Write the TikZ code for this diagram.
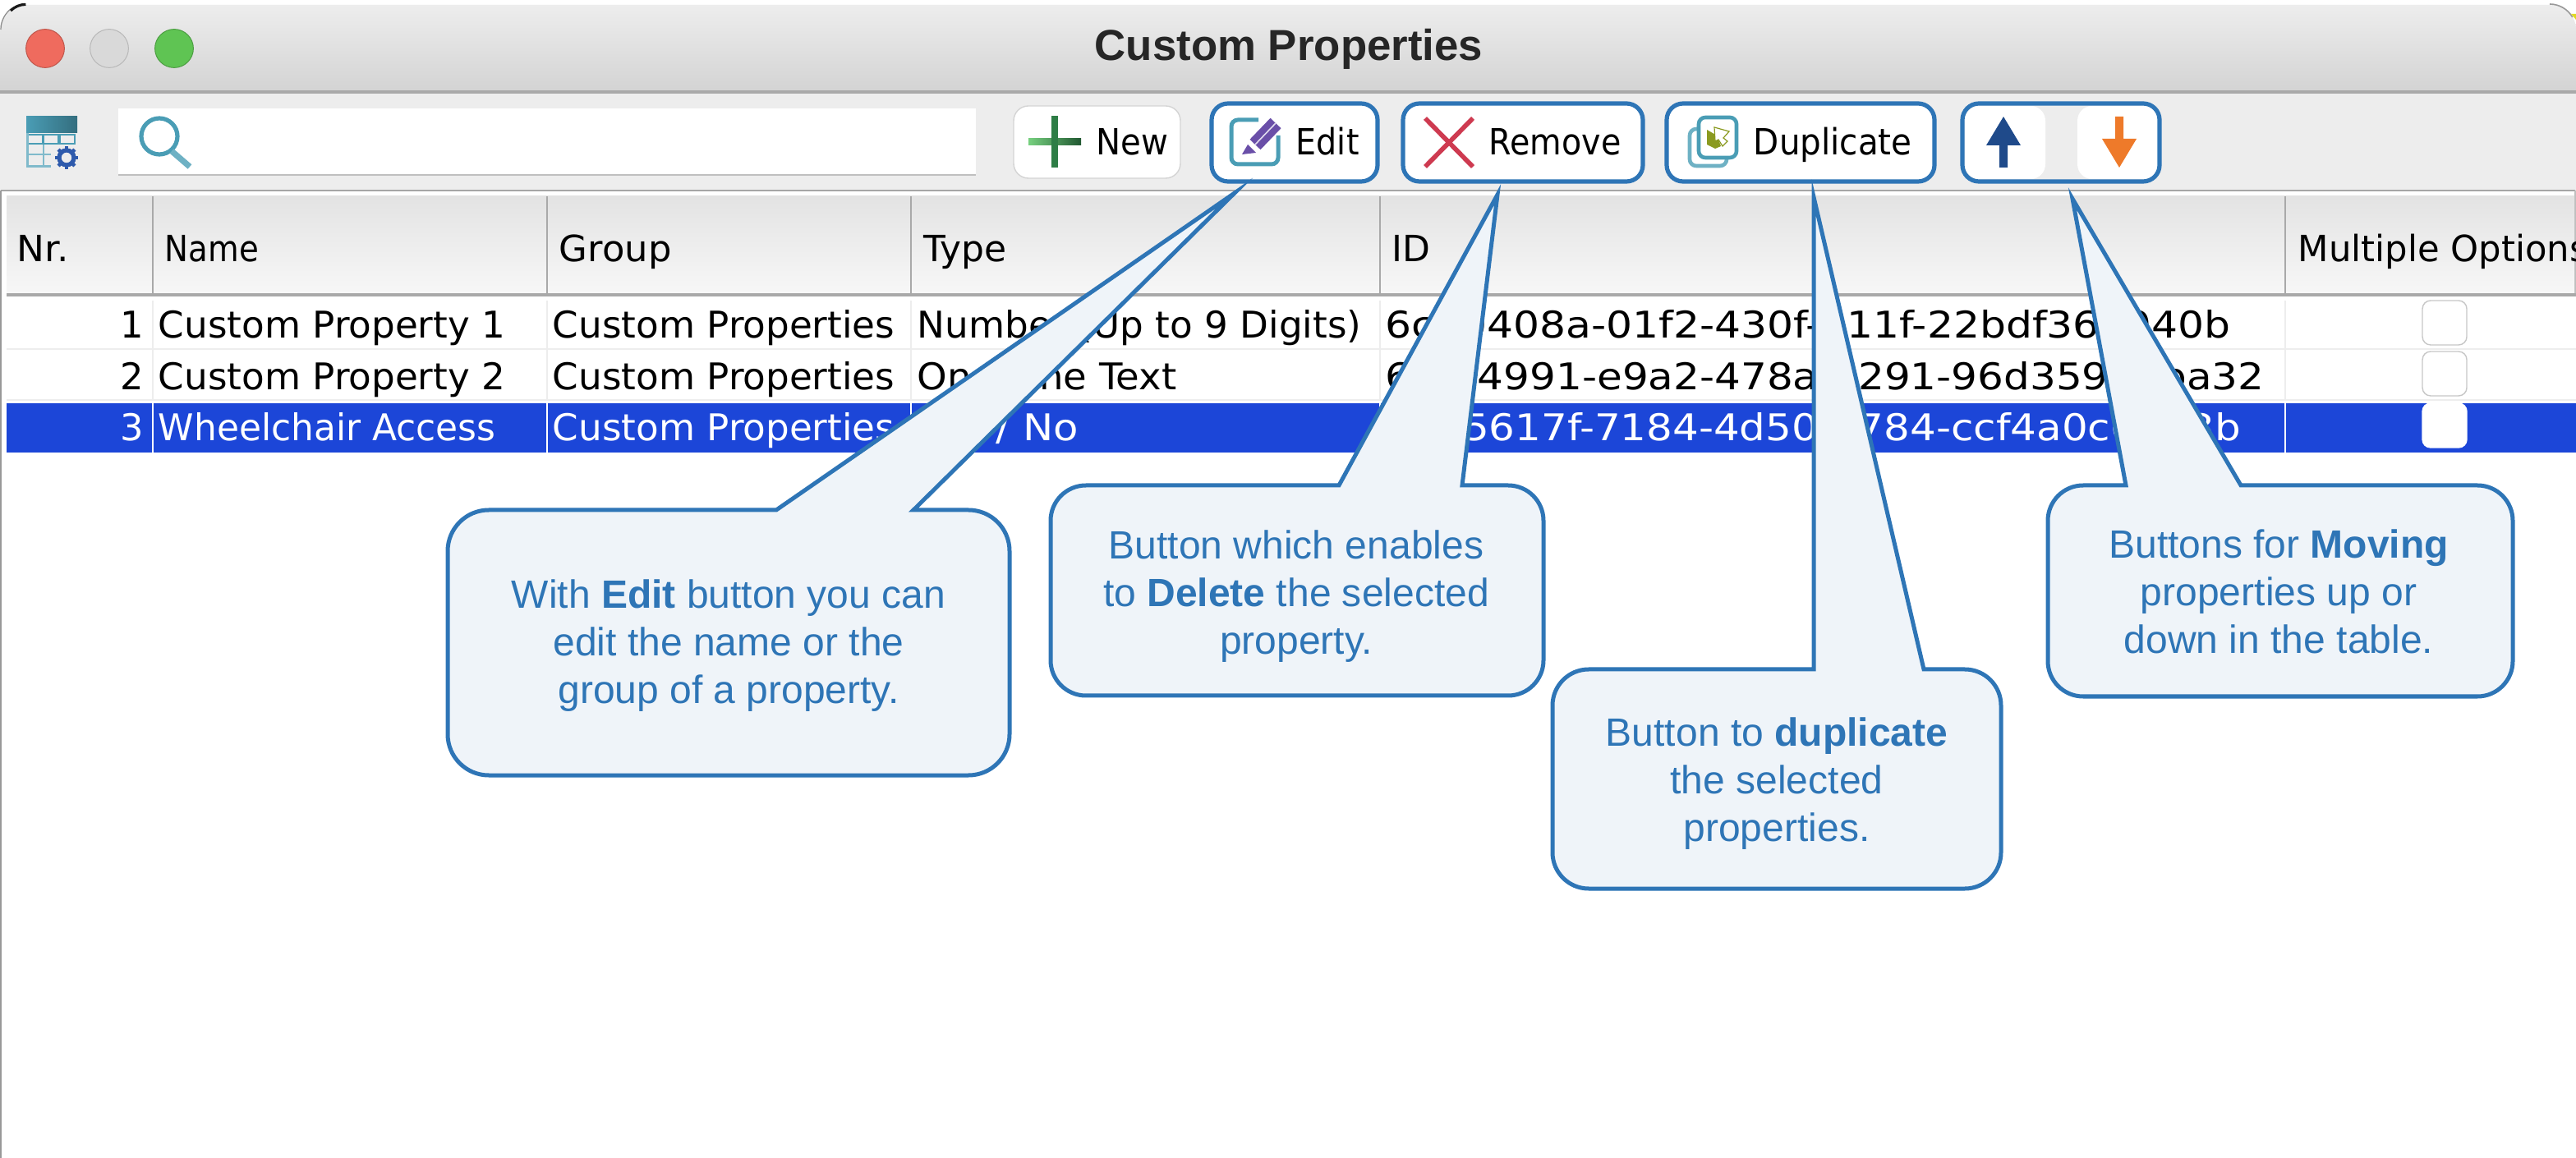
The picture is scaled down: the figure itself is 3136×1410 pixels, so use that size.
\documentclass[tikz,border=0pt]{standalone}
\usepackage{fontspec}
\setmainfont{Liberation Sans}
\newfontfamily\uifont{DejaVu Sans}
\definecolor{callblue}{HTML}{2E75B6}
\definecolor{callfill}{HTML}{EFF4F9}
\definecolor{selblue}{HTML}{1C46D8}
\definecolor{toolbg}{HTML}{EDEDED}
\definecolor{gridgray}{HTML}{A9A9A9}
\definecolor{faint}{HTML}{EDEDED}
\definecolor{btnedge}{HTML}{D4D4D4}
\definecolor{teal}{HTML}{4A9DB5}
\definecolor{lightred}{HTML}{EF6B5E}
\definecolor{lightgreen}{HTML}{5FC453}
\definecolor{gearblue}{HTML}{2E5AAC}
\definecolor{plusgreen}{HTML}{2E7D46}
\definecolor{crossred}{HTML}{CE3A50}
\definecolor{pencil}{HTML}{6A4FA8}
\definecolor{upblue}{HTML}{1F4A8A}
\definecolor{downorange}{HTML}{EE7A2A}
\definecolor{olive}{HTML}{8A9A20}
\newcommand{\hsq}[2]{\scalebox{#1}[1]{#2}}
\tikzset{
 x=0.25pt,y=-0.25pt,
 head/.style={anchor=base west,inner sep=0pt,font=\uifont\fontsize{11}{13}\selectfont,text=black},
 cell/.style={anchor=base west,inner sep=0pt,font=\uifont\fontsize{11.2}{13}\selectfont,text=black},
 cellnum/.style={anchor=base east,inner sep=0pt,font=\uifont\fontsize{11.2}{13}\selectfont,text=black},
 selcell/.style={cell,text=white},
 selnum/.style={cellnum,text=white},
 btntext/.style={anchor=base west,inner sep=0pt,font=\uifont\fontsize{11}{13}\selectfont,text=black},
 calltext/.style={align=center,inner sep=0pt,font=\fontsize{12}{14.5}\selectfont,text=callblue},
 callout/.style={draw=callblue,fill=callfill,line width=1.25pt,miter limit=40},
 hilite/.style={draw=callblue,line width=1.3pt,rounded corners=5pt},
 btn/.style={fill=white,draw=btnedge,line width=0.35pt,rounded corners=4.5pt},
 check/.style={fill=white,draw=#1,line width=0.35pt,rounded corners=2.5pt},
 light/.style={circle,minimum size=11.7pt,inner sep=0pt,line width=0.25pt},
}
\begin{document}
\begin{tikzpicture}
\useasboundingbox (0,0) rectangle (3136,1410);
\fill[white] (0,0) rectangle (3136,1410);
% window chrome
\path[top color=black!7,bottom color=black!17]
  (0,110) -- (0,36) arc[start angle=180,end angle=270,radius=30] -- (3106,6) arc[start angle=270,end angle=360,radius=30] -- (3136,110) -- cycle;
\fill[toolbg] (0,113) rectangle (3136,232);
\draw[gridgray,line width=0.8pt] (0,112) -- (3136,112);
\draw[black!45,line width=0.3pt] (1,36) arc[start angle=180,end angle=235,radius=32];
\draw[black!90,line width=0.8pt] (13,13) arc[start angle=225,end angle=270,radius=26];
\draw[black!40,line width=0.4pt] (3104,5) arc[start angle=270,end angle=330,radius=32];
\fill[yellow!70!olive] (3130,17) -- (3136,17) -- (3136,24) -- cycle;
\node[anchor=base,inner sep=0pt,font=\bfseries\fontsize{13.2}{15}\selectfont,text=black!85] (title) at (1569,74) {Custom Properties};
\fill[white] (0,233) rectangle (3136,1410);
\draw[black!35,line width=0.4pt] (1,232) -- (3135,232);
\draw[black!40,line width=0.4pt] (1,232) -- (1,1410);
\draw[black!25,line width=0.3pt] (3135,232) -- (3135,358);
% traffic lights
\node[light,fill=lightred,draw=lightred!80!black] (close) at (55,59) {};
\node[light,fill=black!15,draw=black!28] (mini) at (133,59) {};
\node[light,fill=lightgreen,draw=lightgreen!80!black] (zoom) at (212,59) {};
% toolbar icon
\shade[left color=teal,right color=teal!70!black] (32,142) rectangle (94,162);
\foreach \xa in {34,53,73}{\draw[teal,line width=0.7pt] (\xa,164) rectangle +(18,11);}
\fill[teal!70] (32,162) rectangle (35,204);
\fill[teal!70] (32,201) rectangle (62,204);
\draw[teal!70,line width=0.7pt] (34,188) -- (62,188) (53,176) -- (53,202);
\foreach \ang in {0,45,...,315}{\draw[gearblue,line width=1.1pt] (81,192) ++(\ang:8) -- ++(\ang:6);}
\draw[gearblue,line width=1.3pt] (81,192) circle[radius=9];
% search
\fill[white] (144,132) rectangle (1188,213);
\draw[black!25,line width=0.4pt] (144,213) -- (1188,213);
\draw[teal,line width=1.3pt] (194,166) circle[radius=22];
\draw[teal!80,line width=1.8pt] (209,184) -- (231,203);
% buttons
\node[btn,minimum width=50.75pt,minimum height=22pt,inner sep=0pt] (newb) at (1335.5,173) {};
\shade[left color=plusgreen!60!green!60!white,right color=plusgreen!70!black] (1252,169) rectangle (1316,177);
\fill[plusgreen] (1280,141) rectangle (1288,204);
\node[btntext] (newt) at (1334,189) {\hsq{.915}{New}};
\node[btn,hilite,fill=white,minimum width=50.5pt,minimum height=23.75pt,inner sep=0pt] (editb) at (1576,173.5) {};
\draw[teal,line width=1.25pt,rounded corners=2pt] (1532,146) -- (1499,146) -- (1499,200) -- (1556,200) -- (1556,165);
\fill[pencil] (1546.5,143.8) -- (1559.5,156.2) -- (1534.5,182.2) -- (1521.5,169.8) -- cycle;
\fill[pencil] (1519,176) -- (1529,186) -- (1512,188) -- cycle;
\draw[white!80!pencil,line width=0.4pt] (1553,150) -- (1528,176);
\node[btntext] (editt) at (1577,189) {\hsq{.9}{Edit}};
\node[btn,hilite,fill=white,minimum width=73pt,minimum height=23.75pt,inner sep=0pt] (remb) at (1854,173.5) {};
\draw[crossred,line width=1.4pt] (1735,144) -- (1793,203) (1793,144) -- (1735,203);
\node[btntext] (remt) at (1812,189) {\hsq{.9}{Remove}};
\node[btn,hilite,fill=white,minimum width=81.5pt,minimum height=23.75pt,inner sep=0pt] (dupb) at (2192,173.5) {};
\draw[teal!80,line width=1.15pt,rounded corners=2pt] (2057,157) rectangle (2102,202);
\fill[white] (2068,143) rectangle (2114,192);
\draw[teal,line width=1.15pt,rounded corners=2pt] (2068,143) rectangle (2114,192);
\fill[olive] (2078,158) -- (2090,165) -- (2095,178) -- (2088,181) -- (2078,176) -- cycle;
\filldraw[fill=white,draw=olive,line width=0.3pt] (2087,155) -- (2105,160) -- (2098,168) -- (2103,172) -- (2097,178) -- (2092,170) -- (2088,172) -- cycle;
\node[btntext] (dupt) at (2134,189) {\hsq{.92}{Duplicate}};
\path[fill=white,rounded corners=4.5pt] (2392,129) rectangle (2490,218);
\path[fill=white,rounded corners=4.5pt] (2529,129) rectangle (2627,218);
\node[hilite,minimum width=60pt,minimum height=23.75pt,inner sep=0pt] (movb) at (2509,173.5) {};
\fill[upblue] (2439,142) -- (2460,177) -- (2444,177) -- (2444,204) -- (2434,204) -- (2434,177) -- (2418,177) -- cycle;
\fill[downorange] (2580,204) -- (2559,169) -- (2575,169) -- (2575,142) -- (2585,142) -- (2585,169) -- (2601,169) -- cycle;
% table header
\shade[top color=black!11,bottom color=black!3] (8,239) rectangle (3134,358);
\draw[gridgray,line width=0.8pt] (8,359) -- (3136,359);
\foreach \xa in {186,666,1109,1680,2782}{\draw[gridgray,line width=0.3pt] (\xa,239) -- (\xa,358);}
\node[head] (h1) at (20,319) {\hsq{1.03}{Nr.}};
\node[head] (h2) at (200,319) {\hsq{.88}{Name}};
\node[head] (h3) at (680,319) {\hsq{1.02}{Group}};
\node[head] (h4) at (1124,319) {\hsq{1.0}{Type}};
\node[head] (h5) at (1694,319) {ID};
\begin{scope}
\clip (0,240) rectangle (3136,360);
\node[head] (h6) at (2797,319) {\hsq{.985}{Multiple Options}};
\end{scope}
% rows
\draw[faint,line width=0.6pt] (8,425) -- (3136,425) (8,487) -- (3136,487);
\foreach \xa in {186,666,1109,1680,2782}{\draw[faint,line width=0.3pt] (\xa,366) -- (\xa,487);}
\fill[selblue] (8,491) rectangle (3136,551);
\foreach \xa in {186,666,1109,1680,2782}{\draw[white,line width=0.5pt] (\xa,491) -- (\xa,551);}
\node[cellnum] (n1) at (176,412) {1};
\node[cell] (a1) at (192,412) {\hsq{1.01}{Custom Property 1}};
\node[cell] (b1) at (672,412) {\hsq{1.01}{Custom Properties}};
\node[cell] (c1) at (1116,412) {\hsq{1.01}{Number (Up to 9 Digits)}};
\node[cell] (d1) at (1686,412) {\hsq{1.124}{6cd0408a-01f2-430f-b11f-22bdf360940b}};
\node[cellnum] (n2) at (176,475) {2};
\node[cell] (a2) at (192,475) {\hsq{1.01}{Custom Property 2}};
\node[cell] (b2) at (672,475) {\hsq{1.01}{Custom Properties}};
\node[cell] (c2) at (1116,475) {\hsq{1.04}{One Line Text}};
\node[cell] (d2) at (1686,475) {\hsq{1.117}{6f0e4991-e9a2-478a-a291-96d35900ba32}};
\node[selnum] (n3) at (176,537) {3};
\node[selcell] (a3) at (192,537) {\hsq{.98}{Wheelchair Access}};
\node[selcell] (b3) at (672,537) {\hsq{1.01}{Custom Properties}};
\node[selcell] (c3) at (1116,537) {\hsq{1.11}{Yes / No}};
\node[selcell] (d3) at (1686,537) {\hsq{1.115}{7e05617f-7184-4d50-a784-ccf4a0c0003b}};
\node[check=black!22,minimum width=13.5pt,minimum height=13.5pt,inner sep=0pt] (k1) at (2976,393) {};
\node[check=black!22,minimum width=13.5pt,minimum height=13.5pt,inner sep=0pt] (k2) at (2976,455) {};
\node[check=white,minimum width=13.5pt,minimum height=13.5pt,inner sep=0pt] (k3) at (2976,518) {};
% callouts
\coordinate (tipA) at (1503,235);
\coordinate (tipB) at (1823,237);
\coordinate (tipC) at (2208,240);
\coordinate (tipD) at (2523,242);
\path[callout] (595,621) -- (945,621) -- (tipA) -- (1112,621) -- (1179,621) arc[start angle=-90,end angle=0,radius=50] -- (1229,894) arc[start angle=0,end angle=90,radius=50] -- (595,944) arc[start angle=90,end angle=180,radius=50] -- (545,671) arc[start angle=180,end angle=270,radius=50] -- cycle;
\path[callout] (1322,591) -- (1630,591) -- (tipB) -- (1780,591) -- (1836,591) arc[start angle=-90,end angle=0,radius=43] -- (1879,804) arc[start angle=0,end angle=90,radius=43] -- (1322,847) arc[start angle=90,end angle=180,radius=43] -- (1279,634) arc[start angle=180,end angle=270,radius=43] -- cycle;
\path[callout] (1934,815) -- (2208,815) -- (tipC) -- (2342,815) -- (2392,815) arc[start angle=-90,end angle=0,radius=44] -- (2436,1038) arc[start angle=0,end angle=90,radius=44] -- (1934,1082) arc[start angle=90,end angle=180,radius=44] -- (1890,859) arc[start angle=180,end angle=270,radius=44] -- cycle;
\path[callout] (2536,591) -- (2588,591) -- (tipD) -- (2728,591) -- (3016,591) arc[start angle=-90,end angle=0,radius=43] -- (3059,805) arc[start angle=0,end angle=90,radius=43] -- (2536,848) arc[start angle=90,end angle=180,radius=43] -- (2493,634) arc[start angle=180,end angle=270,radius=43] -- cycle;
\node[calltext] (ta) at (887,786) {With \textbf{Edit} button you can\\edit the name or the\\group of a property.};
\node[calltext] (tb) at (1578,726) {Button which enables\\to \textbf{Delete} the selected\\property.};
\node[calltext] (tc) at (2163,954) {Button to \textbf{duplicate}\\the selected\\properties.};
\node[calltext] (td) at (2774,720) {Buttons for \textbf{Moving}\\properties up or\\down in the table.};
\end{tikzpicture}
\end{document}
